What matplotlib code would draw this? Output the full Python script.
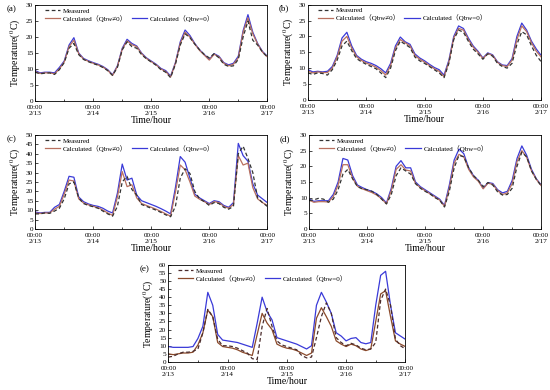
import numpy as np
import matplotlib
matplotlib.use('Agg')
import matplotlib.pyplot as plt
from matplotlib.lines import Line2D

plt.rcParams['font.family'] = ['Liberation Serif', 'Noto Sans CJK SC', 'DejaVu Sans']
plt.rcParams['mathtext.fontset'] = 'stix'

# time axis, every 2 hours from 2/13 00:00 to 2/17 00:00
hours = np.arange(0, 97, 2)
day_ticks = [0, 24, 48, 72, 96]
day_labels = ['00:00\n2/13', '00:00\n2/14', '00:00\n2/15', '00:00\n2/16', '00:00\n2/17']

a_meas = [9.0, 8.5, 8.7, 8.8, 8.3, 9.8, 12.0, 16.5, 18.0, 14.5, 13.0, 12.3, 11.7, 11.2, 10.5, 9.5, 8.0,
          10.5, 16.0, 18.5, 17.0, 16.5, 14.5, 13.2, 12.2, 11.2, 9.8, 9.0, 7.3, 11.5, 17.5, 21.0, 19.8,
          17.8, 16.0, 14.5, 13.5, 14.8, 13.5, 11.5, 10.8, 11.0, 13.0, 20.0, 25.0, 19.0, 17.5, 15.3, 13.8]
a_calc = [9.2, 8.6, 8.8, 8.8, 8.5, 10.0, 12.2, 17.0, 19.0, 14.8, 13.1, 12.4, 11.8, 11.3, 10.6, 9.6, 8.0,
          10.8, 16.2, 18.8, 17.6, 17.0, 14.8, 13.3, 12.3, 11.3, 10.0, 9.2, 7.5, 11.8, 18.0, 21.5, 20.0,
          17.8, 15.8, 14.3, 12.8, 14.6, 13.8, 11.8, 11.0, 11.5, 13.5, 21.5, 26.0, 21.0, 17.8, 15.3, 13.8]
a_zero = [9.5, 8.8, 9.0, 9.0, 8.8, 10.5, 12.5, 17.5, 19.8, 15.0, 13.3, 12.6, 12.0, 11.5, 10.8, 9.8, 8.2,
          11.0, 16.5, 19.3, 18.0, 17.2, 15.0, 13.5, 12.5, 11.5, 10.2, 9.5, 7.8, 12.0, 18.5, 22.2, 20.5,
          18.0, 16.0, 14.5, 13.0, 14.8, 14.0, 12.0, 11.3, 11.8, 14.0, 22.0, 27.0, 21.5, 18.0, 15.5, 14.0]

b_meas = [8.5, 8.0, 8.5, 8.3, 7.8, 9.5, 12.5, 17.0, 18.5, 15.5, 13.0, 12.0, 11.2, 10.5, 9.8, 8.5, 7.0,
          10.0, 15.5, 18.5, 17.5, 16.5, 13.5, 12.3, 11.5, 10.5, 9.5, 8.5, 7.0, 11.5, 19.0, 22.0, 21.3,
          18.5, 16.0, 14.5, 12.8, 14.5, 13.8, 11.5, 10.5, 10.0, 11.5, 17.5, 21.5, 20.5, 17.0, 14.0, 12.0]
b_calc = [9.0, 8.5, 8.8, 8.6, 8.6, 10.0, 13.5, 18.5, 20.0, 16.3, 13.6, 12.4, 11.6, 11.0, 10.3, 9.2, 7.8,
          10.8, 16.3, 19.0, 18.0, 17.0, 14.0, 12.8, 11.9, 10.8, 9.8, 9.0, 7.3, 12.0, 19.5, 22.5, 22.0,
          19.0, 16.6, 15.0, 13.0, 14.6, 14.0, 11.8, 10.8, 10.5, 12.5, 19.0, 23.3, 21.5, 18.0, 15.3, 13.5]
b_zero = [9.5, 8.8, 9.0, 8.8, 9.0, 10.5, 14.0, 19.5, 21.3, 17.0, 14.0, 12.8, 12.0, 11.5, 10.8, 9.8, 8.5,
          11.5, 17.0, 19.8, 18.3, 17.5, 14.5, 13.2, 12.3, 11.2, 10.2, 9.5, 7.8, 12.5, 20.0, 23.3, 22.5,
          19.5, 17.0, 15.3, 13.2, 14.8, 14.2, 12.0, 11.0, 10.8, 13.0, 20.0, 24.2, 22.0, 18.5, 16.0, 14.0]

c_meas = [8.0, 8.0, 8.5, 8.3, 9.5, 11.0, 16.0, 24.0, 25.0, 16.5, 13.5, 12.5, 11.8, 11.0, 9.5, 8.0, 6.8,
          12.0, 25.0, 28.0, 21.0, 18.0, 13.0, 12.0, 11.0, 10.0, 8.8, 7.5, 6.5, 12.0, 27.0, 32.0, 29.5,
          20.0, 16.0, 14.5, 12.5, 14.0, 13.5, 11.5, 10.5, 12.0, 40.0, 44.0, 37.5, 30.0, 16.5, 14.0, 12.0]
c_calc = [8.5, 8.2, 8.5, 8.5, 10.5, 12.0, 18.5, 26.0, 25.5, 16.0, 13.8, 12.8, 12.0, 11.3, 10.0, 8.5, 7.2,
          17.0, 30.5, 22.5, 23.5, 16.5, 13.5, 12.5, 11.5, 10.5, 9.3, 8.0, 6.8, 19.5, 34.0, 31.5, 25.0,
          17.5, 15.8, 14.5, 13.0, 14.5, 14.0, 12.0, 11.0, 13.0, 39.0, 34.0, 35.0, 22.0, 16.0, 14.0, 12.5]
c_zero = [9.0, 8.5, 8.8, 8.8, 11.5, 13.0, 20.0, 28.0, 27.5, 17.0, 14.5, 13.3, 12.5, 12.0, 11.0, 9.5, 8.5,
          19.0, 34.5, 26.0, 27.0, 18.0, 15.0, 14.0, 13.0, 12.0, 10.8, 9.5, 8.0, 22.0, 38.5, 35.5, 27.0,
          18.5, 16.5, 15.0, 13.5, 15.0, 14.5, 12.5, 11.5, 14.0, 45.5, 39.0, 36.0, 24.0, 18.0, 16.0, 14.0]

d_meas = [9.0, 9.3, 9.8, 9.5, 8.5, 9.5, 12.5, 17.5, 19.0, 16.0, 13.5, 12.8, 12.5, 12.0, 11.0, 9.5, 8.0,
          11.0, 17.0, 19.5, 18.5, 17.5, 14.5, 13.0, 12.0, 11.2, 10.0, 9.2, 7.0, 12.0, 19.5, 23.5, 23.0,
          19.5, 17.0, 15.5, 13.5, 14.8, 14.0, 11.8, 10.8, 11.0, 13.0, 20.0, 24.5, 23.0, 18.5, 15.8, 13.8]
d_calc = [9.2, 8.5, 8.7, 8.7, 8.6, 10.3, 14.0, 20.5, 20.5, 16.2, 13.6, 12.8, 12.2, 11.6, 10.8, 9.6, 8.0,
          12.2, 19.0, 20.5, 18.8, 18.5, 14.5, 13.2, 12.2, 11.2, 10.2, 9.2, 7.2, 13.0, 21.0, 23.8, 23.0,
          19.0, 16.6, 15.2, 12.8, 14.6, 14.2, 12.2, 11.0, 11.5, 14.5, 21.5, 25.0, 22.8, 18.5, 15.8, 13.8]
d_zero = [9.5, 8.8, 9.0, 9.0, 9.0, 11.0, 15.0, 22.5, 22.0, 17.0, 14.0, 13.2, 12.5, 12.0, 11.2, 10.0, 8.3,
          13.0, 20.0, 21.8, 19.5, 19.5, 15.0, 13.5, 12.5, 11.5, 10.5, 9.5, 7.5, 14.0, 22.0, 25.5, 24.0,
          19.5, 17.0, 15.5, 13.0, 14.8, 14.5, 12.5, 11.5, 12.0, 15.5, 22.5, 26.5, 23.5, 19.0, 16.0, 14.0]

e_meas = [3.0, 3.5, 5.0, 6.0, 6.0, 6.5, 8.0, 18.0, 32.5, 28.0, 14.0, 10.0, 10.0, 9.5, 8.5, 7.0, 5.5,
          2.0, 1.5, 22.0, 33.0, 22.0, 13.0, 10.5, 9.5, 8.5, 7.5, 4.0, 2.5, 3.0, 15.0, 28.0, 36.5,
          30.0, 15.0, 12.0, 10.0, 11.5, 10.5, 8.5, 7.5, 8.0, 12.0, 38.0, 45.0, 35.0, 14.0, 10.0, 8.0]
e_calc = [5.0, 4.5, 5.0, 5.5, 5.5, 6.0, 10.5, 18.0, 32.0, 28.0, 12.0, 9.5, 9.0, 8.5, 7.5, 6.0, 5.0,
          4.0, 17.0, 30.0, 24.0, 20.0, 11.0, 9.5, 8.5, 8.0, 7.0, 5.5, 4.0, 5.5, 27.0, 33.5, 28.0,
          22.0, 13.0, 11.0, 9.5, 11.0, 10.0, 8.0, 7.0, 8.0, 25.0, 42.0, 44.0, 28.0, 13.0, 11.0, 9.5]
e_zero = [9.5, 9.0, 9.0, 9.0, 9.0, 9.5, 14.5, 22.0, 43.0, 35.0, 17.0, 13.5, 13.0, 12.5, 12.0, 11.0, 10.0,
          9.0, 24.0, 40.0, 31.0, 26.0, 15.0, 14.0, 13.0, 12.0, 11.0, 9.5, 8.0, 10.0, 35.0, 43.0, 37.0,
          30.0, 18.0, 16.0, 13.0, 14.5, 15.0, 12.0, 11.2, 12.0, 35.0, 53.5, 56.0, 35.0, 18.0, 16.0, 14.0]

panels = [
    ('(a)', a_meas, a_calc, a_zero, 30, [0.064, 0.741, 0.422, 0.246]),
    ('(b)', b_meas, b_calc, b_zero, 30, [0.560, 0.744, 0.424, 0.244]),
    ('(c)', c_meas, c_calc, c_zero, 50, [0.064, 0.413, 0.422, 0.241]),
    ('(d)', d_meas, d_calc, d_zero, 30, [0.562, 0.413, 0.422, 0.241]),
    ('(e)', e_meas, e_calc, e_zero, 60, [0.306, 0.072, 0.431, 0.249]),
]

fig = plt.figure(figsize=(5.5, 3.9), dpi=100)

for name, meas, calc, zero, ymax, pos in panels:
    ax = fig.add_axes(pos)
    brown = '#8b4a2b' if name == '(e)' else '#b8705f'
    meas_col = '#4a2a2a' if name == '(e)' else '#333333'
    ax.plot(hours, zero, color='#3a3ad8', lw=0.9)
    ax.plot(hours, calc, color=brown, lw=0.9)
    ax.plot(hours, meas, color=meas_col, lw=0.9, ls=(0, (3, 2)))

    ax.set_xlim(0, 96)
    ax.set_ylim(0, ymax)
    ax.set_xticks(day_ticks)
    ax.set_xticklabels(day_labels, fontsize=5.2, linespacing=1.25)
    ax.set_xticks([12, 36, 60, 84], minor=True)
    ax.set_yticks(np.arange(0, ymax + 1, 5))
    ax.tick_params(axis='y', labelsize=5.2, length=2, width=0.5, pad=1.5, direction='in')
    ax.tick_params(axis='x', length=2, width=0.5, pad=3, direction='in')
    ax.tick_params(axis='x', which='minor', length=1.5, width=0.5, direction='in')
    for s in ax.spines.values():
        s.set_linewidth(0.6)
    ax.set_xlabel('Time/hour', fontsize=7, labelpad=0)
    ax.set_ylabel('Temperature($^{0}$C)', fontsize=7, labelpad=2)
    ax.text(-0.08, 1.0, name, transform=ax.transAxes, fontsize=6.5, va='top', ha='right')

    handles = [Line2D([], [], color=meas_col, lw=0.9, ls=(0, (3, 2))),
               Line2D([], [], color=brown, lw=0.9),
               Line2D([], [], color='none'),
               Line2D([], [], color='#3a3ad8', lw=0.9)]
    labels = ['Measured', 'Calculated\uff08Qbw\u22600\uff09', '', 'Calculated\uff08Qbw=0\uff09']
    ax.legend(handles, labels, ncol=2, loc='upper left', bbox_to_anchor=(0.02, 1.02),
              frameon=False, fontsize=5, handlelength=2.2, handletextpad=0.4,
              columnspacing=0.6, labelspacing=0.15, borderpad=0.2)

fig.savefig('out.png', dpi=100)
